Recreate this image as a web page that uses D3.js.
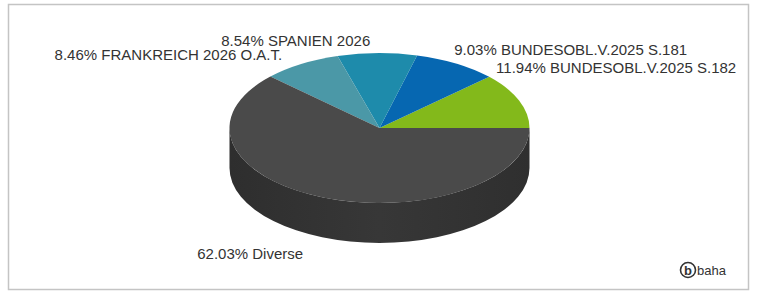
<!DOCTYPE html>
<html>
<head>
<meta charset="utf-8">
<script src="https://cdn.jsdelivr.net/npm/d3@7"></script>
<style>
  body { margin: 0; background: #fff; }
  text { font-family: "Liberation Sans", Arial, sans-serif; }
</style>
</head>
<body>
<svg width="757" height="293"></svg>
<script>
// slice data, counterclockwise from 3 o'clock
const names = ["BUNDESOBL.V.2025 S.182", "BUNDESOBL.V.2025 S.181", "SPANIEN 2026", "FRANKREICH 2026 O.A.T.", "Diverse"];
const shares = [11.94, 9.03, 8.54, 8.46, 62.03];
const colors = ["#83b91b", "#0667b1", "#1e8bab", "#4b98a7", "#4a4a4a"];
const sideColors = ["#5f8a12", "#044c82", "#16687f", "#38717c", "#353535"];

// label nudges relative to the slice mid-point on the rim (layout only)
const labelNudge = [[-23, -28], [-2, -9], [-7, -7], [-19, -4], [-74, 61]];
const labelAnchor = ["start", "start", "end", "end", "middle"];

const svg = d3.select("svg");
const width = +svg.attr("width");
const height = +svg.attr("height");

// frame
svg.append("rect")
	.attr("x", 8.5).attr("y", 4.5)
	.attr("width", width - 17).attr("height", height - 8)
	.attr("fill", "#fff")
	.attr("stroke", "#c4c4c4")
	.attr("stroke-width", 1.5);

const cx = 379.5, cy = 128, rx = 150, ry = 75, depth = 40;
const pt = (a, dy = 0) => [cx + rx * Math.cos(a), cy - ry * Math.sin(a) + dy];

const pie = d3.pie().sort(null).startAngle(0).endAngle(2 * Math.PI);
const arcs = pie(shares);

const g = svg.append("g");

// side wall, only the front half (angles between PI and 2PI) is visible
const sides = arcs.map((d, i) => {
	const a0 = Math.max(d.startAngle, Math.PI);
	const a1 = Math.min(d.endAngle, 2 * Math.PI);
	return { a0, a1, i };
}).filter(s => s.a1 > s.a0);

const defs = svg.append("defs");
const sideGrad = defs.append("linearGradient").attr("id", "side").attr("x1", 0).attr("x2", 1);
sideGrad.append("stop").attr("offset", "0").attr("stop-color", "#2e2e2e");
sideGrad.append("stop").attr("offset", "0.5").attr("stop-color", "#373737");
sideGrad.append("stop").attr("offset", "1").attr("stop-color", "#2f2f2f");

g.selectAll("path.side")
	.data(sides)
	.enter().append("path")
	.attr("class", "side")
	.attr("fill", d => d.i === 4 ? "url(#side)" : sideColors[d.i])
	.attr("d", d => {
		const p0 = pt(d.a0), p1 = pt(d.a1);
		const q0 = pt(d.a0, depth), q1 = pt(d.a1, depth);
		return `M${p0} L${q0} A${rx},${ry} 0 0 0 ${q1} L${p1} A${rx},${ry} 0 0 1 ${p0} Z`;
	});

// top face
g.selectAll("path.top")
	.data(arcs)
	.enter().append("path")
	.attr("class", "top")
	.attr("fill", (d, i) => colors[i])
	.attr("d", d => {
		const p0 = pt(d.startAngle), p1 = pt(d.endAngle);
		const large = d.endAngle - d.startAngle > Math.PI ? 1 : 0;
		return `M${cx},${cy} L${p0} A${rx},${ry} 0 ${large} 0 ${p1} Z`;
	});

// labels
svg.selectAll("text.lbl")
	.data(arcs)
	.enter().append("text")
	.attr("class", "lbl")
	.attr("x", (d, i) => pt((d.startAngle + d.endAngle) / 2)[0] + labelNudge[i][0])
	.attr("y", (d, i) => pt((d.startAngle + d.endAngle) / 2)[1] + labelNudge[i][1])
	.attr("text-anchor", (d, i) => labelAnchor[i])
	.attr("font-size", 15)
	.attr("fill", "#333")
	.text((d, i) => `${shares[i].toFixed(2)}% ${names[i]}`);

// baha logo
const logo = svg.append("g").attr("transform", "translate(688,270)");
logo.append("circle").attr("r", 7.5).attr("fill", "none").attr("stroke", "#333").attr("stroke-width", 1.6);
logo.append("text").attr("text-anchor", "middle").attr("y", 4.5)
	.attr("font-size", 13).attr("font-weight", "bold").attr("fill", "#333").text("b");
logo.append("text").attr("x", 9).attr("y", 5).attr("font-size", 13).attr("fill", "#333").text("baha");
</script>
</body>
</html>
